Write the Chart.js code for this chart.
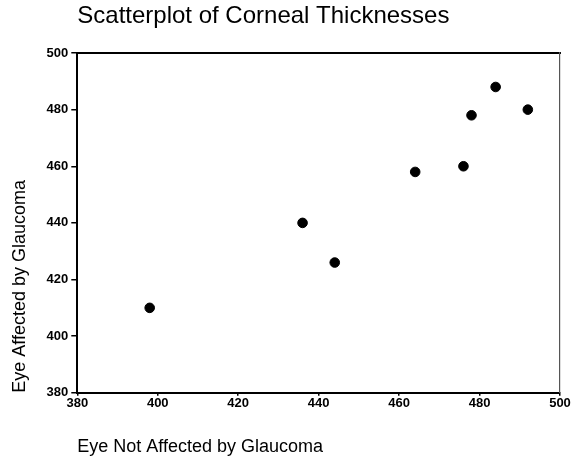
<!DOCTYPE html>
<html>
<head>
<meta charset="utf-8">
<script src="https://cdn.jsdelivr.net/npm/chart.js@4.4.1/dist/chart.umd.min.js"></script>
<style>
  html, body { margin: 0; padding: 0; background: #fff; }
  #wrap { width: 572px; height: 462px; }
</style>
</head>
<body>
<div id="wrap"><canvas id="chart" width="572" height="462"></canvas></div>
<script>
// corneal thickness (microns), one pair per patient
const notAffected = [484, 478, 492, 444, 436, 398, 464, 476];
const affected = [488, 478, 480, 426, 440, 410, 458, 460];
const xTicks = [380, 400, 420, 440, 460, 480, 500];
const yTicks = [380, 400, 420, 440, 460, 480, 500];

const points = notAffected.map((x, i) => ({ x: x, y: affected[i] }));

const family = 'Liberation Sans, Arial, sans-serif';
const tickFont = { family: family, size: 13, weight: 'bold' };
const titleFont = { family: family, size: 18 };

new Chart(document.getElementById('chart').getContext('2d'), {
  type: 'scatter',
  data: {
    datasets: [{
      label: 'Corneal thickness',
      data: points,
      backgroundColor: '#000',
      borderColor: '#000',
      pointRadius: 4.8,
      pointHoverRadius: 4.8
    }]
  },
  options: {
    responsive: false,
    animation: false,
    layout: { padding: { left: 4, right: 12, top: 0, bottom: 4 } },
    plugins: {
      legend: { display: false },
      tooltip: { enabled: false },
      title: {
        display: true,
        text: 'Scatterplot of Corneal Thicknesses',
        align: 'start',
        fullSize: false,
        color: '#000',
        font: { family: family, size: 24, weight: 'normal', lineHeight: 1 },
        padding: { top: 4, bottom: 25 }
      }
    },
    scales: {
      x: {
        type: 'linear',
        min: xTicks[0],
        max: xTicks[xTicks.length - 1],
        afterBuildTicks: (axis) => { axis.ticks = xTicks.map(v => ({ value: v })); },
        ticks: { color: '#000', font: tickFont, padding: 0, maxRotation: 0 },
        grid: { drawOnChartArea: false, drawTicks: true, tickLength: 3, color: '#000', lineWidth: 1.5 },
        border: { display: true, color: '#000', width: 2 },
        title: {
          display: true,
          text: 'Eye Not Affected by Glaucoma',
          align: 'start',
          color: '#000',
          font: titleFont,
          padding: { top: 25, bottom: 0 }
        }
      },
      y: {
        type: 'linear',
        min: yTicks[0],
        max: yTicks[yTicks.length - 1],
        afterBuildTicks: (axis) => { axis.ticks = yTicks.map(v => ({ value: v })); },
        ticks: { color: '#000', font: tickFont, padding: 3 },
        grid: { drawOnChartArea: false, drawTicks: true, tickLength: 6, color: '#000', lineWidth: 1.5 },
        border: { display: true, color: '#000', width: 2 },
        title: {
          display: true,
          text: 'Eye Affected by Glaucoma',
          align: 'start',
          color: '#000',
          font: titleFont,
          padding: { top: 5, bottom: 13 }
        }
      },
      x2: {
        type: 'linear',
        position: 'top',
        min: xTicks[0],
        max: xTicks[xTicks.length - 1],
        ticks: { display: false },
        grid: { display: false, drawTicks: false },
        border: { display: true, color: '#000', width: 2 }
      },
      y2: {
        type: 'linear',
        position: 'right',
        min: yTicks[0],
        max: yTicks[yTicks.length - 1],
        ticks: { display: false },
        grid: { display: false, drawTicks: false },
        border: { display: true, color: '#555', width: 1.2, dash: [2, 3] }
      }
    }
  }
});
</script>
</body>
</html>
